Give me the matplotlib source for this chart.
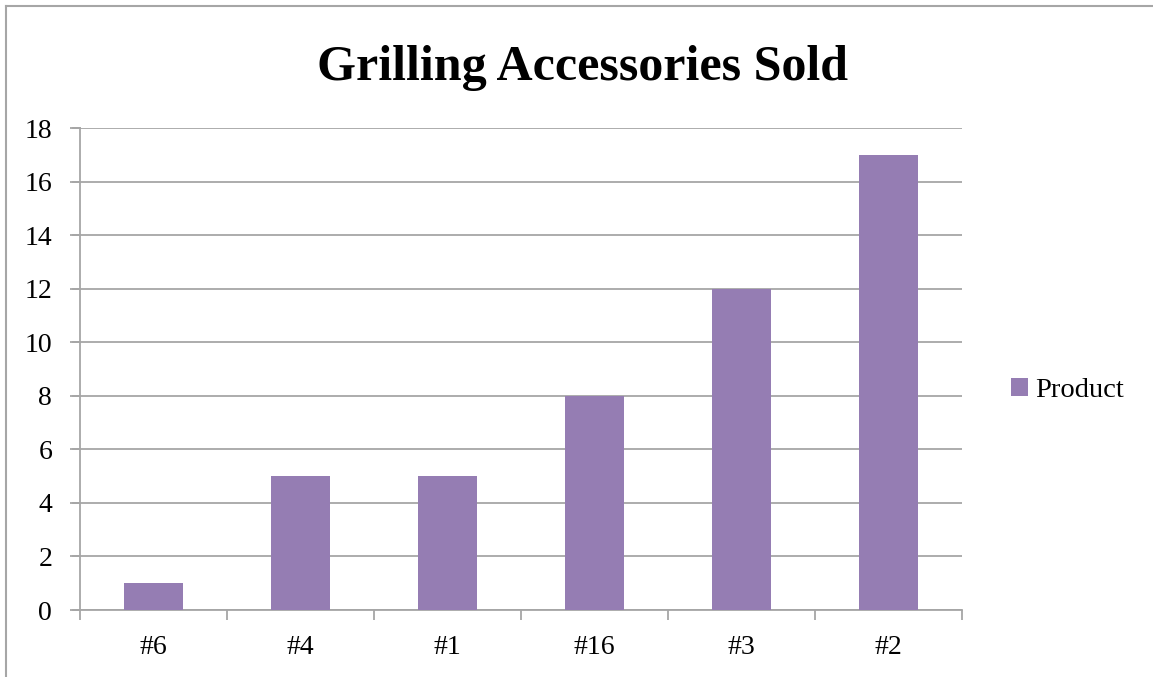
import matplotlib.pyplot as plt
from matplotlib.lines import Line2D

products = ["#6", "#4", "#1", "#16", "#3", "#2"]
sold = [1, 5, 5, 8, 12, 17]

bar_color = "#957DB3"
line_color = "#A6A6A6"

plt.rcParams["font.family"] = ["Liberation Serif", "DejaVu Serif"]

fig = plt.figure(figsize=(11.53, 6.77), dpi=100)
ax = fig.add_axes([80 / 1153, 67 / 677, 882 / 1153, 482 / 677])

x = range(len(products))
ax.bar(x, sold, width=0.4, color=bar_color, label="Product", zorder=3)

ax.set_xlim(-0.5, len(products) - 0.5)
ax.set_ylim(0, 18)
ax.set_yticks(range(0, 19, 2))
ax.grid(axis="y", color=line_color, linewidth=1.3, zorder=0)
ax.set_axisbelow(True)

# category labels in the middle, tick marks on the boundaries
ax.set_xticks(list(x))
ax.set_xticklabels(products)
ax.set_xticks([i - 0.5 for i in range(len(products) + 1)], minor=True)
ax.tick_params(axis="x", which="major", length=0, pad=18, labelsize=20)
ax.tick_params(axis="x", which="minor", length=7, width=1.3, color=line_color, direction="out")
ax.tick_params(axis="y", length=7, width=1.3, color=line_color, pad=13, labelsize=20)

for side in ["top", "right"]:
    ax.spines[side].set_visible(False)
for side in ["left", "bottom"]:
    ax.spines[side].set_color(line_color)
    ax.spines[side].set_linewidth(1.3)

# extend the gridlines out over the y tick marks
for yv in range(0, 19, 2):
    ax.plot([-0.5 - 7 / 147, -0.5], [yv, yv], color=line_color, lw=1.3, clip_on=False)

fig.text(583 / 1153, 1 - 68 / 677, "Grilling Accessories Sold", ha="center", va="center",
         fontsize=36, fontweight="bold")

ax.legend(loc="center left", bbox_to_anchor=(1.039, 0.455), frameon=False, fontsize=20.5,
          handlelength=0.6, handleheight=0.6, handletextpad=0.25, borderpad=0)

# outer chart border (left and top edges)
fig.add_artist(Line2D([6 / 1153, 6 / 1153], [0, 1 - 6 / 677], color=line_color, lw=1.5,
                      transform=fig.transFigure))
fig.add_artist(Line2D([6 / 1153, 1], [1 - 6 / 677, 1 - 6 / 677], color=line_color, lw=1.5,
                      transform=fig.transFigure))

fig.savefig("out.png", dpi=100)
